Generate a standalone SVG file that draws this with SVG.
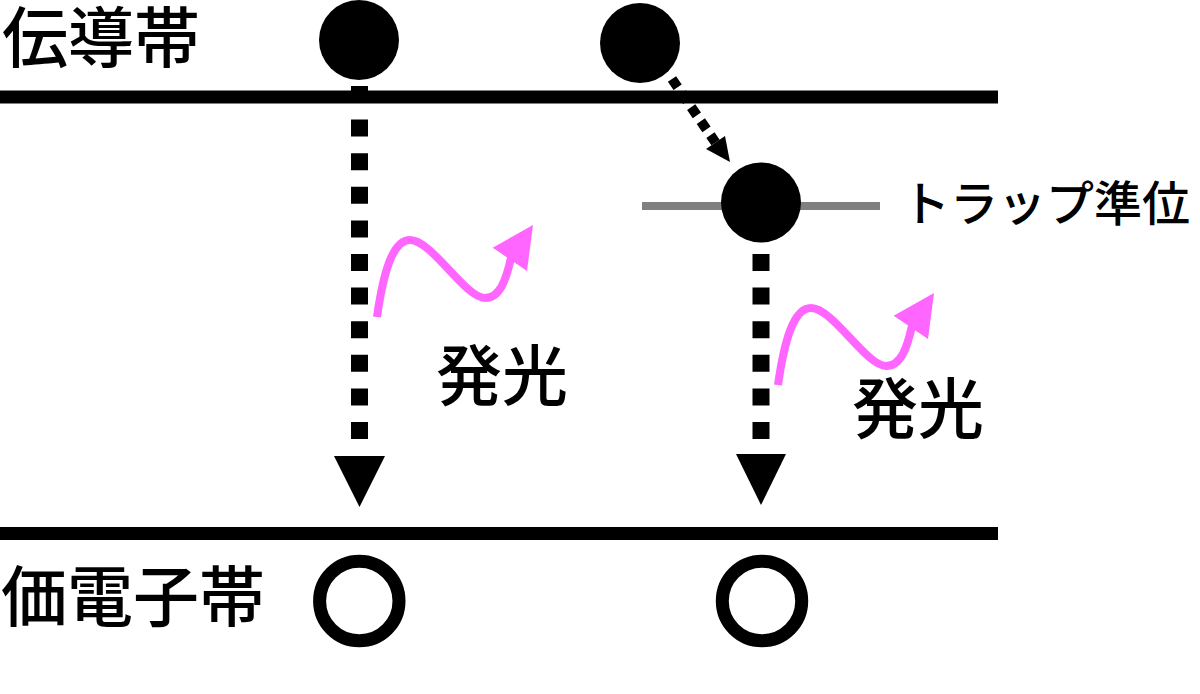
<svg xmlns="http://www.w3.org/2000/svg" width="1200" height="694" viewBox="0 0 1200 694">
<style>
.band{stroke:#000;stroke-width:13;fill:none}
.trap{stroke:#808080;stroke-width:8;fill:none}
.e{fill:#000}
.h{fill:none;stroke:#000;stroke-width:13}
.dot{stroke:#000;stroke-width:17;fill:none;stroke-dasharray:17 16.6}
.ddot{stroke:#000;stroke-width:10;fill:none;stroke-dasharray:10 7}
.head{fill:#000}
.wave{stroke:#ff66ff;stroke-width:8;fill:none}
.whead{fill:#ff66ff}
.big{font-family:"Noto Sans CJK JP","Noto Sans CJK SC",sans-serif;font-size:66px;font-weight:500;fill:#000}
.mid{font-family:"Noto Sans CJK JP","Noto Sans CJK SC",sans-serif;font-size:48px;font-weight:500;fill:#000}
</style>
<defs>
<g id="photon">
<path class="wave" d="M377,317 C383,275 392,240 410,240 C432,240 465,298 485,298 C500,298 506,280 511,258"/>
<polygon class="whead" points="492.7,247.7 533,225 527,271"/>
</g>
</defs>
<g id="bands">
<line class="band" x1="0" y1="97" x2="998" y2="97"/>
<line class="band" x1="0" y1="533.5" x2="998" y2="533.5"/>
<line class="trap" x1="642" y1="206" x2="880" y2="206"/>
</g>
<g id="connectors">
<line class="dot" x1="359.5" y1="86" x2="359.5" y2="439"/>
<polygon class="head" points="334,456 385,456 359.5,507"/>
<line class="dot" x1="761" y1="254" x2="761" y2="439"/>
<polygon class="head" points="736,454 786,454 761,505"/>
<line class="ddot" x1="672" y1="79" x2="715.5" y2="142.5"/>
<polygon class="head" points="706,149 725,136 730,162"/>
</g>
<g id="photon1"><use href="#photon"/></g>
<g id="photon2"><use href="#photon" transform="translate(401,68)"/></g>
<g id="electron1"><circle class="e" cx="359" cy="40" r="40"/></g>
<g id="electron2"><circle class="e" cx="640" cy="43" r="40"/></g>
<g id="electron3"><circle class="e" cx="761" cy="202.5" r="40"/></g>
<g id="hole1"><circle class="h" cx="359.3" cy="601" r="39.7"/></g>
<g id="hole2"><circle class="h" cx="762" cy="601" r="39.7"/></g>
<g id="labels">
<text class="big" x="2" y="62">伝導帯</text>
<text class="big" x="1" y="621">価電子帯</text>
<text class="mid" x="902" y="221">トラップ準位</text>
<text class="big" x="436" y="400">発光</text>
<text class="big" x="852" y="433">発光</text>
</g>
</svg>
